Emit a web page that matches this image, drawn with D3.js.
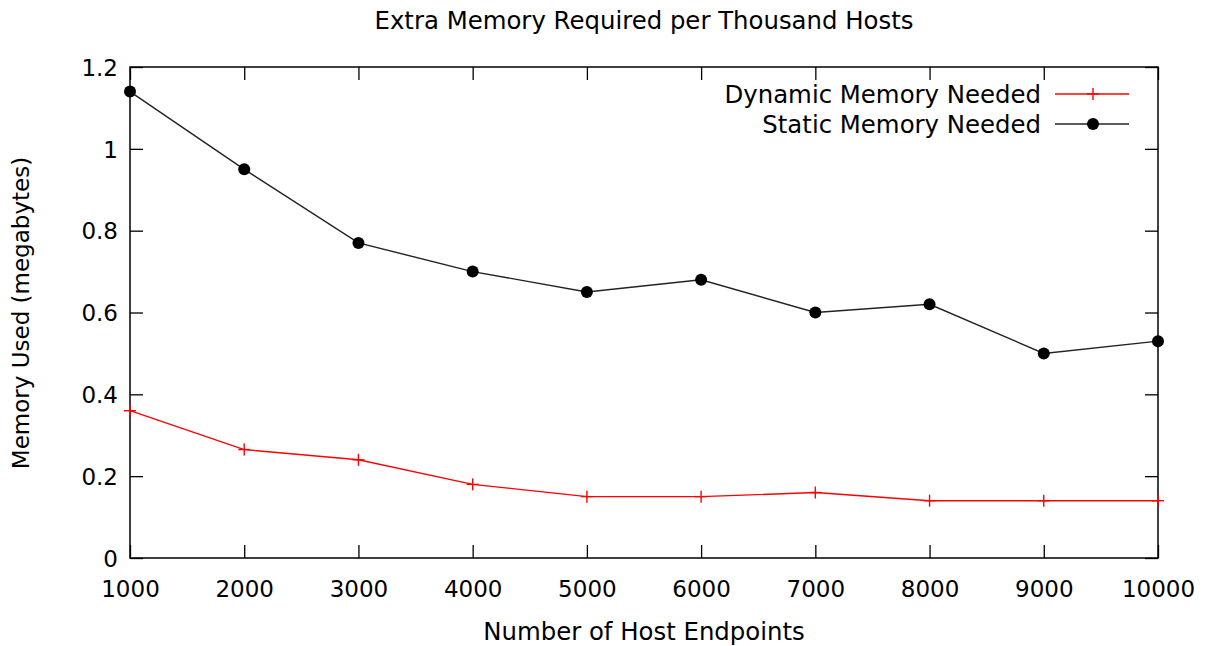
<!DOCTYPE html>
<html>
<head>
<meta charset="utf-8">
<script src="https://cdn.jsdelivr.net/npm/d3@7"></script>
<style>
  body { margin: 0; background: #fff; }
  svg { display: block; font-family: "DejaVu Sans", sans-serif; }
</style>
</head>
<body>
<svg id="chart" width="1211" height="646"></svg>
<script>
const hosts = [1000, 2000, 3000, 4000, 5000, 6000, 7000, 8000, 9000, 10000];
const dynamicMem = [0.36, 0.265, 0.24, 0.18, 0.15, 0.15, 0.16, 0.14, 0.14, 0.14];
const staticMem = [1.14, 0.95, 0.77, 0.70, 0.65, 0.68, 0.60, 0.62, 0.50, 0.53];
const yTicks = [0, 0.2, 0.4, 0.6, 0.8, 1, 1.2];
const seriesNames = ["Dynamic Memory Needed", "Static Memory Needed"];

const svg = d3.select("#chart");
const m = { left: 130, right: 1158, top: 67, bottom: 558 };
const tickFont = 23;
const labelFont = 24.4;

const x = d3.scaleLinear().domain([1000, 10000]).range([m.left, m.right]);
const y = d3.scaleLinear().domain([0, 1.2]).range([m.bottom, m.top]);
const tickLen = 13;

// axes: inward ticks, mirrored on top and right
const gx = svg.append("g").attr("transform", `translate(0,${m.bottom})`)
  .call(d3.axisBottom(x).tickValues(hosts).tickSizeInner(-tickLen).tickSizeOuter(0).tickPadding(0).tickFormat(d3.format("d")));
const gxTop = svg.append("g").attr("transform", `translate(0,${m.top})`)
  .call(d3.axisTop(x).tickValues(hosts).tickSizeInner(-tickLen).tickSizeOuter(0).tickFormat(""));
const gy = svg.append("g").attr("transform", `translate(${m.left},0)`)
  .call(d3.axisLeft(y).tickValues(yTicks).tickSizeInner(-tickLen).tickSizeOuter(0).tickPadding(0).tickFormat(d => d3.format("")(+d.toFixed(1))));
const gyRight = svg.append("g").attr("transform", `translate(${m.right},0)`)
  .call(d3.axisRight(y).tickValues(yTicks).tickSizeInner(-tickLen).tickSizeOuter(0).tickFormat(""));

[gx, gxTop, gy, gyRight].forEach(g => {
  g.select(".domain").remove();
  g.selectAll("line").attr("stroke", "#000").attr("stroke-width", 1.3);
  g.selectAll("text").attr("fill", "#000").style("font-size", tickFont + "px").style("font-family", "DejaVu Sans, sans-serif");
});
gx.selectAll("text").attr("y", 39).attr("dy", null);
gy.selectAll("text").attr("x", -12).attr("dy", "0.36em");

// frame
svg.append("rect")
  .attr("x", m.left).attr("y", m.top)
  .attr("width", m.right - m.left).attr("height", m.bottom - m.top)
  .attr("fill", "none").attr("stroke", "#000").attr("stroke-width", 1.5);

const line = d3.line().x(d => x(d[0])).y(d => y(d[1]));
const dynPts = hosts.map((h, i) => [h, dynamicMem[i]]);
const staPts = hosts.map((h, i) => [h, staticMem[i]]);

// dynamic series: red line with plus markers
svg.append("path").datum(dynPts).attr("d", line)
  .attr("fill", "none").attr("stroke", "#ff0000").attr("stroke-width", 1.4);
const plus = (g, cx, cy, s) => {
  g.append("line").attr("x1", cx - s).attr("x2", cx + s).attr("y1", cy).attr("y2", cy)
    .attr("stroke", "#ff0000").attr("stroke-width", 1.4);
  g.append("line").attr("x1", cx).attr("x2", cx).attr("y1", cy - s).attr("y2", cy + s)
    .attr("stroke", "#ff0000").attr("stroke-width", 1.4);
};
const plusG = svg.append("g");
dynPts.forEach(d => plus(plusG, x(d[0]), y(d[1]), 6));

// static series: black line with filled circles
svg.append("path").datum(staPts).attr("d", line)
  .attr("fill", "none").attr("stroke", "#222").attr("stroke-width", 1.4);
svg.append("g").selectAll("circle").data(staPts).join("circle")
  .attr("cx", d => x(d[0])).attr("cy", d => y(d[1])).attr("r", 6).attr("fill", "#000");

// legend
const leg = svg.append("g");
const legRows = [94, 124];
seriesNames.forEach((name, i) => {
  const ly = legRows[i];
  leg.append("text").attr("x", 1041).attr("y", ly).attr("dy", "0.36em")
    .attr("text-anchor", "end").style("font-size", labelFont + "px").attr("fill", "#000").text(name);
  leg.append("line").attr("x1", 1055).attr("x2", 1129).attr("y1", ly).attr("y2", ly)
    .attr("stroke", i === 0 ? "#ff0000" : "#222").attr("stroke-width", 1.4);
  if (i === 0) plus(leg, 1093, ly, 6);
  else leg.append("circle").attr("cx", 1093).attr("cy", ly).attr("r", 6).attr("fill", "#000");
});

// titles
svg.append("text").attr("x", 644).attr("y", 29).attr("text-anchor", "middle")
  .style("font-size", labelFont + "px").attr("fill", "#000").text("Extra Memory Required per Thousand Hosts");
svg.append("text").attr("x", 644).attr("y", 640).attr("text-anchor", "middle")
  .style("font-size", labelFont + "px").attr("fill", "#000").text("Number of Host Endpoints");
svg.append("text").attr("transform", "translate(29,313) rotate(-90)").attr("text-anchor", "middle")
  .style("font-size", tickFont + "px").attr("fill", "#000").text("Memory Used (megabytes)");
</script>
</body>
</html>
